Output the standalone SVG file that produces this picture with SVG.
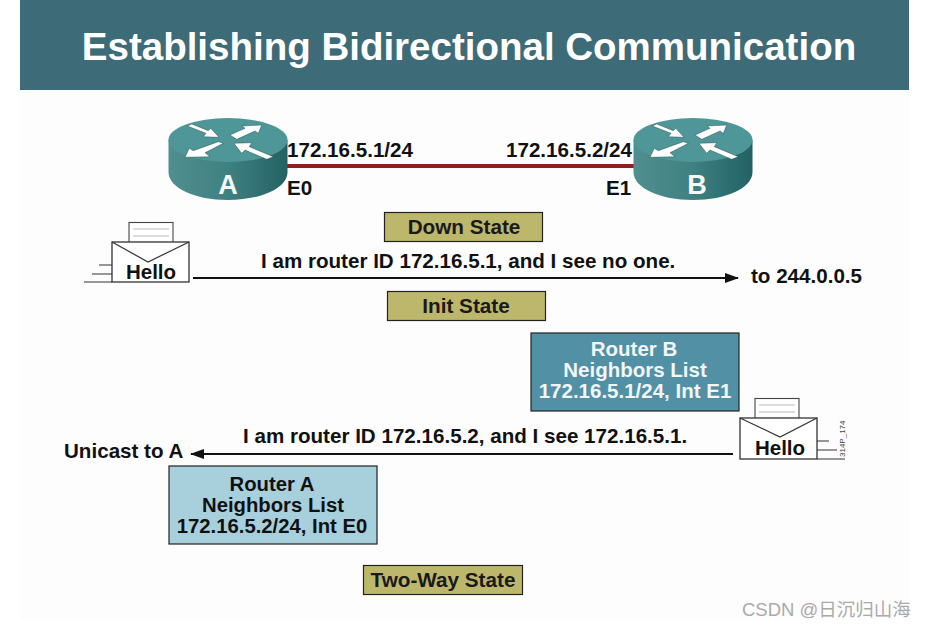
<svg xmlns="http://www.w3.org/2000/svg" width="928" height="628" viewBox="0 0 928 628">
<defs>
<linearGradient id="side" x1="0" x2="1" y1="0" y2="0"><stop offset="0" stop-color="#508f90"/><stop offset="0.5" stop-color="#3f8081"/><stop offset="1" stop-color="#226265"/></linearGradient>
<marker id="ah" viewBox="0 0 14 10" refX="13" refY="5" markerWidth="14" markerHeight="10" markerUnits="userSpaceOnUse" orient="auto"><path d="M0,0L14,5L0,10Z" fill="#111"/></marker>
<g id="router">
<path d="M-59.500,-10V22C-59.500,38 -33,50 0,50C33,50 59.500,38 59.500,22V-10Z" fill="url(#side)"/>
<ellipse cx="0" cy="-10" rx="59.500" ry="22" fill="#4f9698"/>
<g fill="#fff" stroke="#14393a" stroke-width="0.4">
<path d="M-40.700,-24L-36.300,-26L-19.700,-19.300L-17.300,-21.700L-9,-12.700L-24.700,-13.300L-22,-16.700Z"/>
<path d="M2,-15L17,-21.700L14.300,-24L33.700,-25L30.300,-16.700L27,-19L8.700,-10.700Z"/>
<path d="M-4.700,-6.700L-23,2.700L-18,6.700L-43,7.300L-38.700,-1.700L-34.700,0.700L-9.700,-8.300Z"/>
<path d="M6,-6.700L23.700,-7.300L21.300,-3.300L45.300,6.700L38.700,9.300L17,0L13.700,3.300Z"/>
</g>
</g>
</defs>
<style>
text{font-family:"Liberation Sans",Arial,sans-serif;font-weight:700;fill:#111}
.t{font-size:20.600px}
.s{font-size:20.300px;text-anchor:middle}
.state{fill:#bdb76b;stroke:#222;stroke-width:1.2}
.w{fill:#f2f6f6;text-anchor:middle;font-size:20.500px}
.d{text-anchor:middle;font-size:20.700px;fill:#1a1a1a}
.env{fill:#fff;stroke:#333;stroke-width:1.3}
.paper{fill:#fff;stroke:#444;stroke-width:1.1}
.rule{stroke:#bbb;stroke-width:1;fill:none}
.ln{stroke:#333;stroke-width:1.2;fill:none}
</style>
<rect width="928" height="628" fill="#fff"/>
<rect x="20" y="0" width="889" height="90" fill="#3d6c78"/>
<rect x="20" y="90" width="889" height="530" fill="#fdfdfd"/>
<text x="469" y="60" text-anchor="middle" font-size="38.500" style="fill:#fff">Establishing Bidirectional Communication</text>

<g id="connectors" fill="none">
<line x1="283" y1="166" x2="636" y2="166" stroke="#8f1f1f" stroke-width="4"/>
<line x1="193" y1="278" x2="738" y2="278" stroke="#111" stroke-width="2" marker-end="url(#ah)"/>
<line x1="733" y1="454" x2="191" y2="454" stroke="#111" stroke-width="2" marker-end="url(#ah)"/>
</g>

<g id="routerA"><use href="#router" x="228" y="150"/><text x="228" y="194" text-anchor="middle" font-size="27" style="fill:#f4f8f8">A</text></g>
<g id="routerB"><use href="#router" x="693" y="150"/><text x="697" y="194" text-anchor="middle" font-size="27" style="fill:#f4f8f8">B</text></g>
<text class="t" x="287" y="157">172.16.5.1/24</text>
<text class="t" x="506" y="157">172.16.5.2/24</text>
<text class="t" x="287" y="195">E0</text>
<text class="t" x="606" y="195">E1</text>

<g id="down"><rect class="state" x="384.500" y="212.500" width="158" height="29"/><text class="d" x="464" y="234">Down State</text></g>
<g id="init"><rect class="state" x="387.500" y="291.500" width="158" height="29"/><text class="d" x="466" y="313">Init State</text></g>
<g id="twoway"><rect class="state" x="363.500" y="565.500" width="159" height="29"/><text class="d" x="443" y="587">Two-Way State</text></g>

<g id="helloA">
<rect class="paper" x="129" y="222.500" width="44" height="20"/><path class="rule" d="M133,229H169M133,236H169"/>
<rect class="env" x="112" y="242" width="77" height="40"/><path class="ln" d="M112,242L148,262L189,242"/>
<path class="ln" d="M84,282H112M92,274H112M99,265H112"/>
<text x="151" y="279" text-anchor="middle" font-size="20.500">Hello</text></g>
<text class="t" x="261" y="268">I am router ID 172.16.5.1, and I see no one.</text>
<text class="t" x="751" y="283">to 244.0.0.5</text>

<g id="listB"><rect x="531" y="333" width="208" height="78" fill="#5290a6" stroke="#222" stroke-width="1.2"/>
<text class="w" x="634" y="356">Router B</text><text class="w" x="635" y="377">Neighbors List</text><text class="w" x="635" y="398">172.16.5.1/24, Int E1</text></g>

<g id="helloB">
<rect class="paper" x="755" y="398.500" width="44" height="20"/><path class="rule" d="M759,405H795M759,412H795"/>
<rect class="env" x="740" y="418" width="77" height="41"/><path class="ln" d="M740,418L780,437L817,418"/>
<path class="ln" d="M817,441H829M817,450H837M817,459H845"/>
<text x="780" y="455" text-anchor="middle" font-size="20.500">Hello</text>
<text transform="translate(845,457) rotate(-90)" font-size="8" style="font-weight:400;fill:#444">314P_174</text></g>
<text class="t" x="243" y="443">I am router ID 172.16.5.2, and I see 172.16.5.1.</text>
<text class="t" x="64" y="458">Unicast to A</text>

<g id="listA"><rect x="169" y="466" width="208" height="78" fill="#a8cfdc" stroke="#222" stroke-width="1.2"/>
<text class="s" x="272" y="491">Router A</text><text class="s" x="273" y="512">Neighbors List</text><text class="s" x="272" y="533">172.16.5.2/24, Int E0</text></g>

<text x="742" y="616" font-size="18.500" style="font-weight:400;fill:#aaa;font-family:'Liberation Sans','Noto Sans CJK SC',sans-serif">CSDN @日沉归山海</text>
</svg>
